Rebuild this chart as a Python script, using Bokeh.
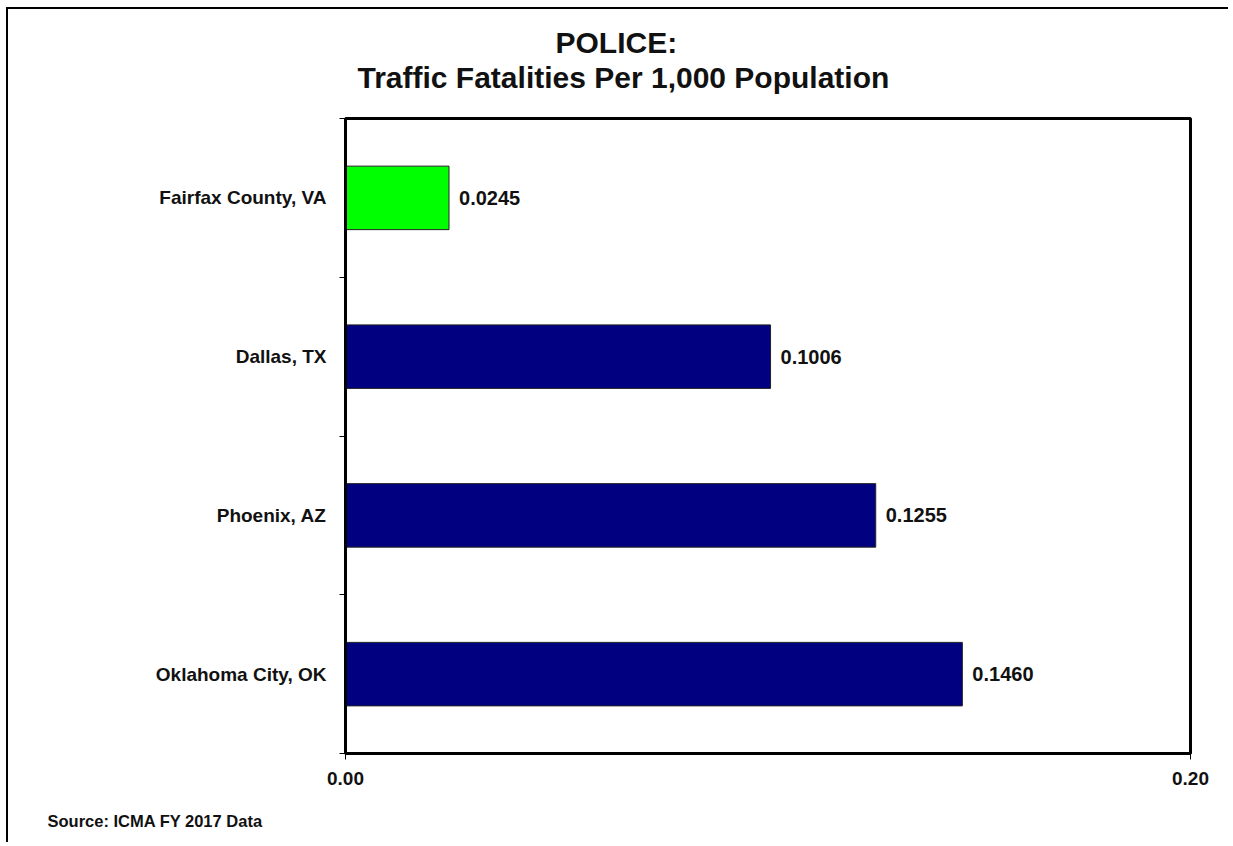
from bokeh.plotting import figure
from bokeh.models import ColumnDataSource, Range1d, FixedTicker, NumeralTickFormatter, Title
from bokeh.embed import file_html
from bokeh.resources import INLINE
from bokeh.core.properties import value

categories = ["Fairfax County, VA", "Dallas, TX", "Phoenix, AZ", "Oklahoma City, OK"]
values = [0.0245, 0.1006, 0.1255, 0.1460]
value_labels = ["0.0245", "0.1006", "0.1255", "0.1460"]
colors = ["#00FF00", "#000080", "#000080", "#000080"]
x_ticks = [0.0, 0.2]

title_line1 = "POLICE:"
title_line2 = "Traffic Fatalities Per 1,000 Population"
source_note = "Source: ICMA FY 2017 Data"

FONT = "Liberation Sans"

n = len(categories)
ypos = [i + 0.5 for i in range(n)]

src = ColumnDataSource(dict(y=ypos, v=values, lab=value_labels, c=colors, cat=categories))

W, H = 1222, 835
p = figure(width=W, height=H, output_backend="svg", toolbar_location=None,
           x_range=Range1d(0, 0.2), y_range=Range1d(n, 0),
           min_border_left=337, min_border_right=W - 1182,
           min_border_top=109, min_border_bottom=H - 744)
p.styles = {"margin-left": "6px", "margin-top": "7px",
            "border-left": "2px solid black", "border-top": "2px solid black"}
p.background_fill_color = "white"
p.border_fill_color = "white"
p.outline_line_color = "black"
p.outline_line_width = 3
p.xgrid.visible = False
p.ygrid.visible = False

p.hbar(y="y", right="v", left=0, height=0.4, fill_color="c", line_color="#222222",
       line_width=1, source=src)
p.text(x="v", y="y", text="lab", x_offset=10, text_baseline="middle", text_align="left",
       text_font=value(FONT), text_font_size="20px", text_font_style="bold",
       text_color="#111111", source=src)

# y axis
ya = p.yaxis[0]
ya.ticker = FixedTicker(ticks=ypos, minor_ticks=list(range(n + 1)))
ya.major_label_overrides = {ypos[i]: categories[i] for i in range(n)}
ya.major_tick_line_color = None
ya.minor_tick_out = 6
ya.minor_tick_in = 0
ya.minor_tick_line_color = "black"
ya.axis_line_width = 3
ya.axis_line_color = "black"
ya.major_label_standoff = 13
ya.major_label_text_font = FONT
ya.major_label_text_font_size = "19px"
ya.major_label_text_font_style = "bold"
ya.major_label_text_color = "#111111"

# x axis
xa = p.xaxis[0]
xa.ticker = FixedTicker(ticks=x_ticks, minor_ticks=[])
xa.formatter = NumeralTickFormatter(format="0.00")
xa.major_tick_out = 6
xa.major_tick_in = 0
xa.major_tick_line_color = "black"
xa.axis_line_width = 3
xa.axis_line_color = "black"
xa.major_label_standoff = 12
xa.major_label_text_font = FONT
xa.major_label_text_font_size = "19px"
xa.major_label_text_font_style = "bold"
xa.major_label_text_color = "#111111"

# titles (second line added first so that it sits nearest the plot)
p.add_layout(Title(text=title_line2, align="left", offset=12, standoff=50,
                   text_font=FONT, text_font_size="30px", text_font_style="bold",
                   text_color="#111111"), "above")
p.add_layout(Title(text=title_line1, align="left", offset=210, standoff=-50,
                   text_font=FONT, text_font_size="30px", text_font_style="bold",
                   text_color="#111111"), "above")
p.add_layout(Title(text="\n" + source_note, align="left", offset=-298, standoff=8,
                   text_font=FONT, text_font_size="16.5px", text_font_style="bold",
                   text_color="#111111"), "below")

open("out.html", "w").write(file_html(p, INLINE))
